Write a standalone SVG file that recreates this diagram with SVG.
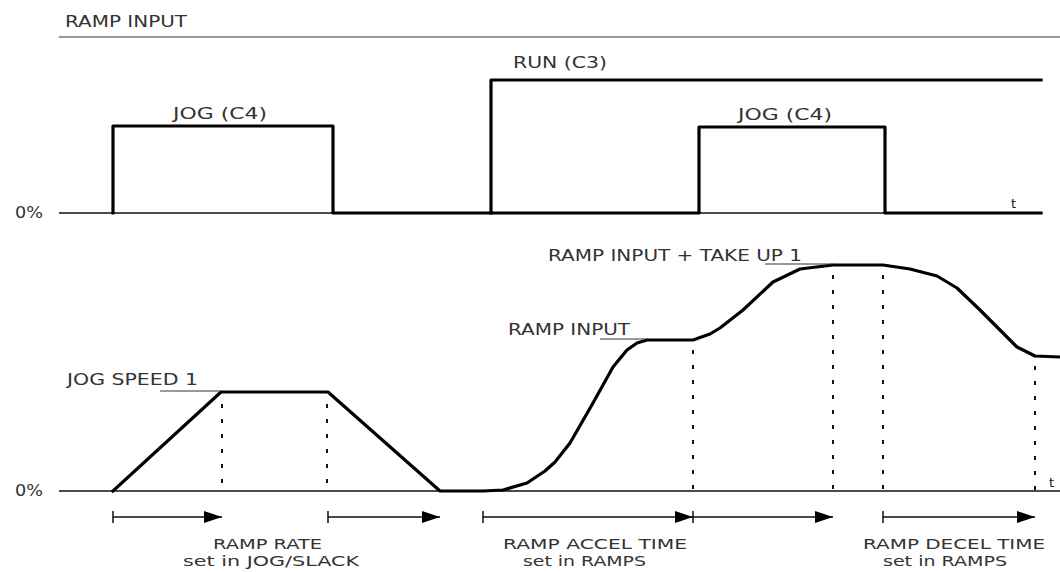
<svg xmlns="http://www.w3.org/2000/svg" width="1060" height="572" viewBox="0 0 1060 572">
<style>
text{font-family:"DejaVu Sans","Liberation Sans",sans-serif;font-size:15px;fill:#333}
.sm{font-size:13px;fill:#111}
.lb{font-size:14px}
.thin{fill:none;stroke:#111;stroke-width:1.5}
.hair{fill:none;stroke:#333;stroke-width:1}
.sig{fill:none;stroke:#000;stroke-width:3.2;stroke-linejoin:round;stroke-linecap:square}
.dot{fill:none;stroke:#111;stroke-width:2;stroke-dasharray:4 11}
.dim{fill:none;stroke:#111;stroke-width:1.5}
</style>
<defs>
<marker id="ah" markerUnits="userSpaceOnUse" markerWidth="20" markerHeight="14" refX="18" refY="7" orient="auto">
<path d="M0,1 L18,7 L0,13 z" fill="#000"/>
</marker>
</defs>

<g id="top-panel">
<text x="65" y="27" textLength="122" lengthAdjust="spacingAndGlyphs">RAMP INPUT</text>
<line class="hair" x1="59" y1="37" x2="1060" y2="37"/>
<text x="15" y="218" textLength="28" lengthAdjust="spacingAndGlyphs">0%</text>
<line class="thin" x1="59" y1="213" x2="1041" y2="213"/>
<path class="sig" d="M113,213 V126 H333 V213 H699 V127 H885 V213 H1041"/>
<path class="sig" d="M491,213 V80 H1041"/>
<text x="173" y="119" textLength="94" lengthAdjust="spacingAndGlyphs">JOG (C4)</text>
<text x="738" y="120" textLength="94" lengthAdjust="spacingAndGlyphs">JOG (C4)</text>
<text x="513" y="68" textLength="94" lengthAdjust="spacingAndGlyphs">RUN (C3)</text>
<text class="sm" x="1011" y="208">t</text>
</g>

<g id="bottom-panel">
<text x="15" y="496" textLength="28" lengthAdjust="spacingAndGlyphs">0%</text>
<line class="thin" x1="59" y1="491" x2="1060" y2="491"/>
<path class="sig" d="M113,491 L221,392 H328 L440,491 H483 L503,490 L527,483 L545,471 L555,462 L570,443 L593,403 L613,367 L627,350 L637,343 L647,340 L693,340 L710,334 L720,328 L743,310 L773,282 L800,269 L833,265 L883,265 L910,269 L937,276 L957,288 L980,310 L1000,330 L1017,347 L1035,356 L1060,357"/>
<line class="hair" x1="160" y1="391" x2="221" y2="391"/>
<line class="hair" x1="600" y1="339" x2="648" y2="339"/>
<line class="hair" x1="765" y1="264" x2="833" y2="264"/>
<text x="67" y="385" textLength="131" lengthAdjust="spacingAndGlyphs">JOG SPEED 1</text>
<text x="508" y="335" textLength="122" lengthAdjust="spacingAndGlyphs">RAMP INPUT</text>
<text x="548" y="261" textLength="254" lengthAdjust="spacingAndGlyphs">RAMP INPUT + TAKE UP 1</text>
<text class="sm" x="1049" y="487">t</text>
<line class="dot" x1="222" y1="404" x2="222" y2="490"/>
<line class="dot" x1="327" y1="404" x2="327" y2="490"/>
<line class="dot" x1="693" y1="350" x2="693" y2="490"/>
<line class="dot" x1="833" y1="275" x2="833" y2="490"/>
<line class="dot" x1="883" y1="275" x2="883" y2="490"/>
<line class="dot" x1="1035" y1="366" x2="1035" y2="490"/>
</g>

<g id="connectors">
<path class="dim" d="M113,511 V523 M113,517 H222" marker-end="url(#ah)"/>
<path class="dim" d="M328,511 V523 M328,517 H440" marker-end="url(#ah)"/>
<path class="dim" d="M483,511 V523 M483,517 H693" marker-end="url(#ah)"/>
<path class="dim" d="M693,511 V523 M693,517 H833" marker-end="url(#ah)"/>
<path class="dim" d="M883,511 V523 M883,517 H1035" marker-end="url(#ah)"/>
</g>

<g id="labels">
<text class="lb" x="213" y="549" textLength="109" lengthAdjust="spacingAndGlyphs">RAMP RATE</text>
<text class="lb" x="183" y="566" textLength="176" lengthAdjust="spacingAndGlyphs">set in JOG/SLACK</text>
<text class="lb" x="503" y="549" textLength="184" lengthAdjust="spacingAndGlyphs">RAMP ACCEL TIME</text>
<text class="lb" x="523" y="566" textLength="123" lengthAdjust="spacingAndGlyphs">set in RAMPS</text>
<text class="lb" x="863" y="549" textLength="182" lengthAdjust="spacingAndGlyphs">RAMP DECEL TIME</text>
<text class="lb" x="883" y="566" textLength="124" lengthAdjust="spacingAndGlyphs">set in RAMPS</text>
</g>
</svg>
